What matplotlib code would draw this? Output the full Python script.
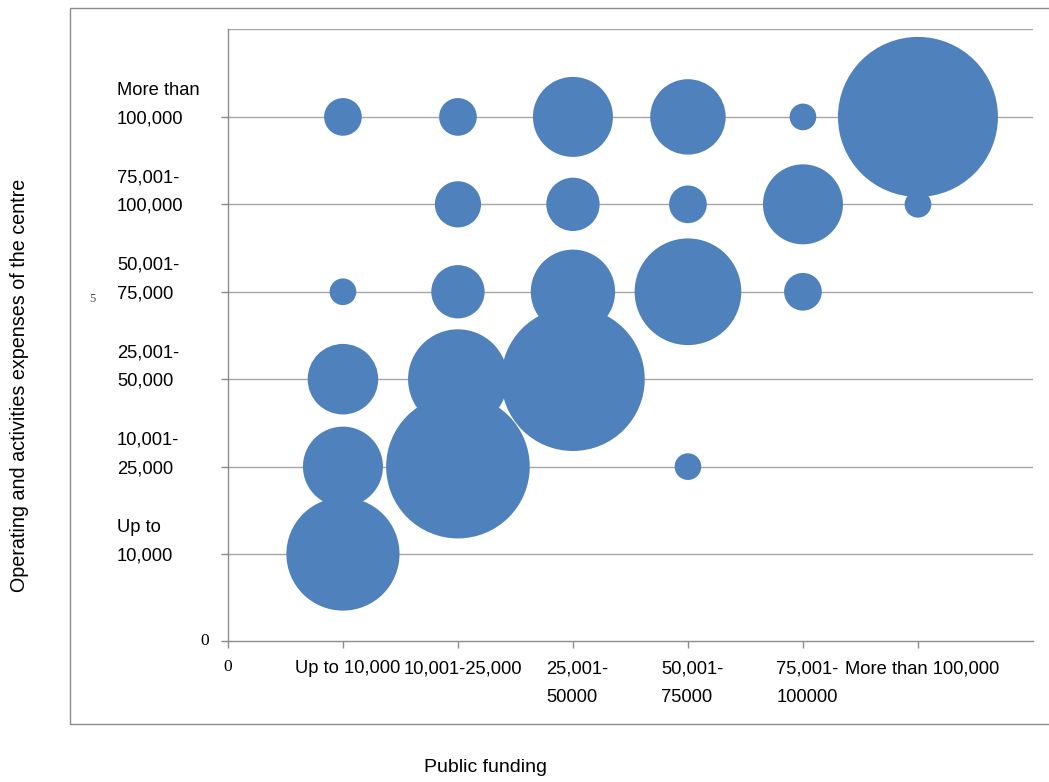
import matplotlib
matplotlib.use('Agg')
import matplotlib.pyplot as plt
import matplotlib.transforms as mtransforms
from matplotlib.patches import Rectangle

# category labels
funding_labels = ['Up to 10,000', '10,001-25,000', '25,001-\n50000',
                  '50,001-\n75000', '75,001-\n100000', 'More than 100,000']
expense_labels = ['Up to\n10,000', '10,001-\n25,000', '25,001-\n50,000',
                  '50,001-\n75,000', '75,001-\n100,000', 'More than\n100,000']

# one entry per bubble: funding class, expense class, number of centres
funding_cat = [1, 1, 1, 1, 1,
               2, 2, 2, 2, 2,
               3, 3, 3, 3,
               4, 4, 4, 4,
               5, 5, 5,
               6, 6]
expense_cat = [1, 2, 3, 4, 6,
               2, 3, 4, 5, 6,
               3, 4, 5, 6,
               2, 4, 5, 6,
               4, 5, 6,
               5, 6]
centres = [18, 9, 7, 1, 2,
           29, 14, 4, 3, 2,
           29, 10, 4, 9,
           1, 16, 2, 8,
           2, 9, 1,
           1, 36]

sans = ['Liberation Sans', 'DejaVu Sans']
serif = ['Liberation Serif', 'DejaVu Serif']
fs = 13.2
grey = '#8c8c8c'

dpi = 100
fig = plt.figure(figsize=(10.49, 7.82), dpi=dpi)
ax = fig.add_axes([0.2173, 0.1797, 0.7674, 0.7826])

# outer chart border
fig.patches.append(Rectangle((0.0667, 0.0742), 0.96, 0.9156, transform=fig.transFigure,
                             fill=False, edgecolor=grey, linewidth=1.0))

# bubble area proportional to count, largest about 160 px across
max_diam_pt = 160 * 72 / dpi
scale = max_diam_pt ** 2 / max(centres)
ax.scatter(funding_cat, expense_cat, s=[c * scale for c in centres],
           color='#4f81bd', edgecolors='none', zorder=3)

ax.set_xlim(0, 7)
ax.set_ylim(0, 7)
ax.set_xticks(range(0, 7))
ax.set_yticks(range(0, 7))
ax.set_xticklabels([])
ax.set_yticklabels([])
ax.tick_params(axis='both', length=5, color=grey, width=1)
for y in range(1, 8):
    ax.axhline(y, color='#a6a6a6', linewidth=1.0, zorder=1)
for side in ['top', 'right']:
    ax.spines[side].set_visible(False)
for side in ['left', 'bottom']:
    ax.spines[side].set_color(grey)
    ax.spines[side].set_linewidth(1.0)

# y category labels, last line sitting on its gridline
ylab_tr = mtransforms.blended_transform_factory(fig.transFigure, ax.transData)
ylab_tr = ylab_tr + mtransforms.ScaledTranslation(0, -7.6 / 72, fig.dpi_scale_trans)
for i, lab in enumerate(expense_labels):
    ax.text(117 / 1049, i + 1, lab, transform=ylab_tr, ha='left', va='bottom',
            fontsize=fs, family=sans, linespacing=1.9)

# x category labels
xlab_tr = mtransforms.blended_transform_factory(ax.transData, fig.transFigure)
for i, lab in enumerate(funding_labels):
    ax.text(i + 1.04, 1 - 660 / 782, lab, transform=xlab_tr, ha='center', va='top',
            multialignment='left', fontsize=fs, family=sans, linespacing=1.9)

# zero labels
ax.text(0, 1 - 659 / 782, '0', transform=xlab_tr, ha='center', va='top',
        fontsize=12.5, family=serif)
ax.text(209 / 1049, 0, '0', transform=ylab_tr + mtransforms.ScaledTranslation(0, 2.5 / 72, fig.dpi_scale_trans),
        ha='right', va='bottom', fontsize=12.5, family=serif)
fig.text(92 / 1049, 1 - 299 / 782, '5', ha='center', va='center', fontsize=9,
         family=serif, color='#444444')

fig.text(20 / 1049, 1 - 385 / 782, 'Operating and activities expenses of the centre',
         rotation=90, ha='center', va='center', fontsize=14.2, family=sans)
fig.text(485 / 1049, 1 - 768 / 782, 'Public funding', ha='center', va='center',
         fontsize=14, family=sans)

fig.savefig('out.png', dpi=dpi)
